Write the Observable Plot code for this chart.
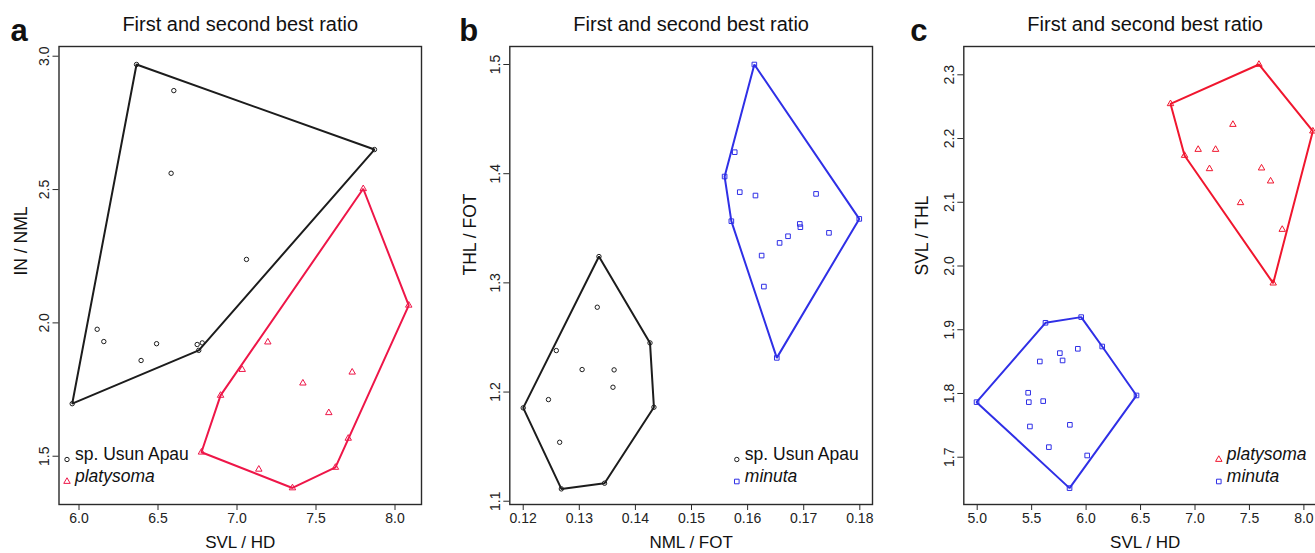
<!DOCTYPE html>
<html><head><meta charset="utf-8">
<script src="https://cdn.jsdelivr.net/npm/d3@7"></script>
<script src="https://cdn.jsdelivr.net/npm/@observablehq/plot@0.6"></script>
<style>
html,body{margin:0;padding:0;background:#fff;width:1315px;height:553px;overflow:hidden;}
#wrap{position:relative;width:1315px;height:553px;overflow:hidden;}
.panel{position:absolute;top:0;}
</style></head><body><div id="wrap"></div>
<script>
// ---------- data ----------
const titleText = "First and second best ratio";

// panel a: SVL/HD vs IN/NML
const aUsunX = [6.364, 6.600, 7.870, 6.583, 7.060, 6.115, 6.157, 6.491, 6.393, 6.748, 6.780, 6.758, 5.957];
const aUsunY = [2.969, 2.871, 2.650, 2.561, 2.238, 1.976, 1.930, 1.922, 1.859, 1.919, 1.925, 1.897, 1.697];
const aPlatX = [7.799, 8.087, 7.704, 7.623, 7.351, 6.775, 6.896, 7.033, 7.195, 7.417, 7.581, 7.729, 7.138];
const aPlatY = [2.503, 2.066, 1.567, 1.458, 1.381, 1.515, 1.728, 1.825, 1.928, 1.774, 1.663, 1.815, 1.451];
const aXTicks = [6.0, 6.5, 7.0, 7.5, 8.0];
const aYTicks = [1.5, 2.0, 2.5, 3.0];

// panel b: NML/FOT vs THL/FOT
const bUsunX = [0.1335, 0.1332, 0.1426, 0.1259, 0.1305, 0.1362, 0.1360, 0.1245, 0.1200, 0.1433, 0.1265, 0.1345, 0.1268];
const bUsunY = [1.3241, 1.2777, 1.2450, 1.2380, 1.2206, 1.2203, 1.2044, 1.1931, 1.1855, 1.1861, 1.1540, 1.1165, 1.1113];
const bMinX = [0.1612, 0.1577, 0.1559, 0.1586, 0.1614, 0.1722, 0.1571, 0.1799, 0.1693, 0.1694, 0.1672, 0.1745, 0.1657, 0.1625, 0.1629, 0.1652];
const bMinY = [1.5000, 1.4197, 1.3974, 1.3831, 1.3800, 1.3815, 1.3565, 1.3586, 1.3540, 1.3510, 1.3427, 1.3458, 1.3366, 1.3250, 1.2966, 1.2313];
const bXTicks = [0.12, 0.13, 0.14, 0.15, 0.16, 0.17, 0.18];
const bYTicks = [1.1, 1.2, 1.3, 1.4, 1.5];

// panel c: SVL/HD vs SVL/THL
const cPlatX = [7.587, 6.775, 8.082, 7.348, 7.029, 7.189, 6.904, 7.133, 7.611, 7.694, 7.418, 7.801, 7.718];
const cPlatY = [2.3162, 2.2545, 2.2116, 2.2220, 2.1828, 2.1828, 2.1734, 2.1525, 2.1536, 2.1332, 2.0992, 2.0573, 1.9731];
const cMinX = [5.955, 5.627, 6.148, 5.924, 5.759, 5.575, 5.784, 5.468, 5.474, 5.606, 4.994, 6.463, 5.484, 5.851, 5.658, 6.010, 5.848];
const cMinY = [1.9198, 1.9109, 1.8737, 1.8701, 1.8633, 1.8502, 1.8518, 1.8011, 1.7864, 1.7880, 1.7864, 1.7969, 1.7482, 1.7508, 1.7158, 1.7027, 1.6515];
const cXTicks = [5.0, 5.5, 6.0, 6.5, 7.0, 7.5, 8.0];
const cYTicks = [1.7, 1.8, 1.9, 2.0, 2.1, 2.2, 2.3];

// ---------- styles ----------
const BLACK = "#1c1c1c", RED_A = "#ee1648", RED_C = "#f0162e", BLUE = "#2f2fe6";
const FONT = "'Liberation Sans', Arial, Helvetica, sans-serif";

function hullMarks(data, color) {
  if (Plot.hull) return Plot.hull(data, {x: "x", y: "y", stroke: color, strokeWidth: 2});
  const h = d3.polygonHull(data.map(d => [d.x, d.y]));
  h.push(h[0]);
  return Plot.line(h, {x: d => d[0], y: d => d[1], stroke: color, strokeWidth: 2});
}

function panel(cfg) {
  const marks = [];
  for (const s of cfg.series) {
    const data = s.x.map((x, i) => ({x, y: s.y[i]}));
    marks.push(hullMarks(data, s.color));
    marks.push(Plot.dot(data, {x: "x", y: "y", symbol: s.symbol, r: s.r, stroke: s.color, strokeWidth: 1, fill: "none"}));
  }
  marks.push(Plot.frame({stroke: "#2a2a2a", strokeWidth: 1.4}));
  marks.push(Plot.axisX(cfg.xTicks, {tickFormat: cfg.xFormat, tickSize: 6, tickPadding: 3, fontSize: 14, label: null, stroke: "#2a2a2a", fill: "#222", letterSpacing: "-0.6px"}));
  marks.push(Plot.axisY(cfg.yTicks, {tickFormat: cfg.yFormat, tickSize: 6, tickPadding: 4, tickRotate: -90, fontSize: 14, label: null, stroke: "#2a2a2a", fill: "#222", letterSpacing: "-0.6px"}));
  // title, panel letter, axis labels
  marks.push(Plot.text([titleText], {text: d => d, frameAnchor: "top", lineAnchor: "bottom", dy: -16, fontSize: 20, fill: "#111"}));
  marks.push(Plot.text([cfg.letter], {text: d => d, frameAnchor: "top-left", textAnchor: "middle", lineAnchor: "bottom", dx: cfg.letterDx, dy: -6, fontSize: 31, fontWeight: "bold", fill: "#111"}));
  marks.push(Plot.text([cfg.xLabel], {text: d => d, frameAnchor: "bottom", lineAnchor: "middle", dy: 38, fontSize: 17, fill: "#111"}));
  marks.push(Plot.text([cfg.yLabel], {text: d => d, frameAnchor: "left", rotate: -90, lineAnchor: "middle", dx: cfg.yLabelDx, fontSize: 17.5, fill: "#111"}));
  // legend
  cfg.legend.forEach((L, i) => {
    marks.push(Plot.dot([0], {frameAnchor: "bottom-left", dx: cfg.legendDx, dy: -45 + 22 * i, symbol: L.symbol, r: L.r, stroke: L.color, strokeWidth: 1, fill: "none"}));
    marks.push(Plot.text([L.label], {text: d => d, frameAnchor: "bottom-left", textAnchor: "start", dx: cfg.legendDx + 8, dy: -45 + 22 * i, fontSize: 17.5, fontStyle: L.italic ? "italic" : "normal", fill: "#111"}));
  });
  const el = Plot.plot({
    width: cfg.width, height: 553,
    marginLeft: cfg.ml, marginRight: cfg.mr, marginTop: 46, marginBottom: 49,
    x: {domain: cfg.xDomain},
    y: {domain: cfg.yDomain},
    style: {fontFamily: FONT, background: "transparent", overflow: "visible"},
    marks
  });
  el.classList.add("panel");
  el.style.left = cfg.left + "px";
  document.getElementById("wrap").appendChild(el);
}

panel({
  left: 0, width: 440, ml: 58.5, mr: 19,
  xDomain: [5.8734, 8.1677], yDomain: [1.319, 3.0364],
  xTicks: aXTicks, yTicks: aYTicks, xFormat: d3.format(".1f"), yFormat: d3.format(".1f"),
  letter: "a", letterDx: -40, xLabel: "SVL / HD", yLabel: "IN / NML", yLabelDx: -38,
  series: [
    {x: aUsunX, y: aUsunY, symbol: "circle", r: 2.2, color: BLACK},
    {x: aPlatX, y: aPlatY, symbol: "triangle", r: 2.4, color: RED_A}
  ],
  legendDx: 8,
  legend: [
    {label: "sp. Usun Apau", symbol: "circle", r: 2.2, color: BLACK, italic: false},
    {label: "platysoma", symbol: "triangle", r: 2.4, color: RED_A, italic: true}
  ]
});

panel({
  left: 450, width: 440, ml: 59.3, mr: 18,
  xDomain: [0.11761, 0.18226], yDomain: [1.097, 1.5165],
  xTicks: bXTicks, yTicks: bYTicks, xFormat: d3.format(".2f"), yFormat: d3.format(".1f"),
  letter: "b", letterDx: -41, xLabel: "NML / FOT", yLabel: "THL / FOT", yLabelDx: -39,
  series: [
    {x: bUsunX, y: bUsunY, symbol: "circle", r: 2.2, color: BLACK},
    {x: bMinX, y: bMinY, symbol: "square", r: 2.6, color: BLUE}
  ],
  legendDx: 227,
  legend: [
    {label: "sp. Usun Apau", symbol: "circle", r: 2.2, color: BLACK, italic: false},
    {label: "minuta", symbol: "square", r: 2.6, color: BLUE, italic: true}
  ]
});

panel({
  left: 900, width: 440, ml: 63.3, mr: 14,
  xDomain: [4.877, 8.2075], yDomain: [1.6258, 2.3444],
  xTicks: cXTicks, yTicks: cYTicks, xFormat: d3.format(".1f"), yFormat: d3.format(".1f"),
  letter: "c", letterDx: -45, xLabel: "SVL / HD", yLabel: "SVL / THL", yLabelDx: -41,
  series: [
    {x: cPlatX, y: cPlatY, symbol: "triangle", r: 2.4, color: RED_C},
    {x: cMinX, y: cMinY, symbol: "square", r: 2.6, color: BLUE}
  ],
  legendDx: 255,
  legend: [
    {label: "platysoma", symbol: "triangle", r: 2.4, color: RED_C, italic: true},
    {label: "minuta", symbol: "square", r: 2.6, color: BLUE, italic: true}
  ]
});
</script></body></html>
